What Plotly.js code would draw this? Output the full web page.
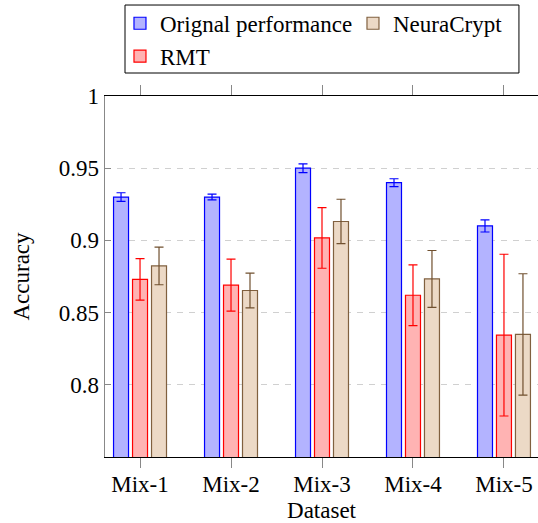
<!DOCTYPE html>
<html>
<head>
<meta charset="utf-8">
<script src="https://cdn.plot.ly/plotly-3.0.1.min.js"></script>
<style>html,body{margin:0;padding:0;background:#fff;}#chart{width:538px;height:523px;}</style>
</head>
<body>
<div id="chart"></div>
<script>
// Data
const categories = ["Mix-1", "Mix-2", "Mix-3", "Mix-4", "Mix-5"];
const originalValues = [0.930, 0.930, 0.950, 0.940, 0.910];
const originalErrors = [0.003, 0.002, 0.003, 0.0027, 0.0042];
const rmtValues = [0.873, 0.869, 0.9017, 0.862, 0.8344];
const rmtErrors = [0.0144, 0.018, 0.021, 0.021, 0.056];
const neuraValues = [0.8823, 0.8653, 0.9131, 0.8733, 0.8349];
const neuraErrors = [0.013, 0.012, 0.0154, 0.0197, 0.042];
const yTickVals = [0.8, 0.85, 0.9, 0.95, 1];
const yTickText = ["0.8", "0.85", "0.9", "0.95", "1"];

const FONT = "Liberation Serif, Times New Roman, serif";

function barTrace(name, y, err, fill, line, errColor, legendId) {
  return {
    type: "bar",
    name: name,
    x: categories,
    y: y,
    legend: legendId,
    marker: { color: fill, line: { color: line, width: 1.2 } },
    error_y: { type: "data", array: err, visible: true, color: errColor, thickness: 1.2, width: 4.5 }
  };
}

const data = [
  barTrace("Orignal performance", originalValues, originalErrors, "#b3b3ff", "#0000ff", "#0000ff", "legend"),
  barTrace("RMT", rmtValues, rmtErrors, "#ffb3b3", "#ff0000", "#ff0000", "legend"),
  barTrace("NeuraCrypt", neuraValues, neuraErrors, "#ecd9c6", "#80603f", "#70502f", "legend2")
];

const legendBase = {
  orientation: "v",
  xanchor: "left",
  yanchor: "top",
  borderwidth: 0,
  bgcolor: "rgba(0,0,0,0)",
  font: { family: FONT, size: 23, color: "#000" },
  traceorder: "normal",
  tracegroupgap: 0
};

const layout = {
  width: 538,
  height: 523,
  margin: { l: 105, r: 0, t: 96, b: 66 },
  paper_bgcolor: "#fff",
  plot_bgcolor: "#fff",
  font: { family: FONT, size: 23, color: "#000" },
  barmode: "group",
  bargap: 0.374,
  bargroupgap: 0.21,
  showlegend: true,
  legend: Object.assign({}, legendBase, { x: 0.0346, y: 1.261 }),
  legend2: Object.assign({}, legendBase, { x: 0.5727, y: 1.261 }),
  shapes: [{
    type: "rect", xref: "paper", yref: "paper",
    x0: 0.0462, x1: 0.956, y0: 1.0637, y1: 1.252,
    line: { color: "#000", width: 1 }, fillcolor: "rgba(0,0,0,0)"
  }],
  xaxis: {
    type: "category",
    range: [-0.385, 4.374],
    showline: true, linecolor: "#000", linewidth: 1.2,
    mirror: "ticks",
    ticks: "outside", ticklen: 10, tickcolor: "#888", tickwidth: 1,
    ticklabelstandoff: -4,
    showgrid: false, zeroline: false,
    tickfont: { family: FONT, size: 23, color: "#000" },
    title: { text: "Dataset", font: { family: FONT, size: 23, color: "#000" }, standoff: 6 }
  },
  yaxis: {
    range: [0.75, 1],
    tickvals: yTickVals,
    ticktext: yTickText,
    showline: true, linecolor: "#888", linewidth: 1.5,
    ticks: "inside", ticklen: 6, tickcolor: "#888",
    showgrid: true, gridcolor: "#d0d0d0", gridwidth: 1, griddash: "6px,6px",
    zeroline: false,
    tickfont: { family: FONT, size: 23, color: "#000" },
    title: { text: "Accuracy", font: { family: FONT, size: 23, color: "#000" }, standoff: 22 }
  }
};

Plotly.newPlot("chart", data, layout, { displayModeBar: false, staticPlot: true });
</script>
</body>
</html>
